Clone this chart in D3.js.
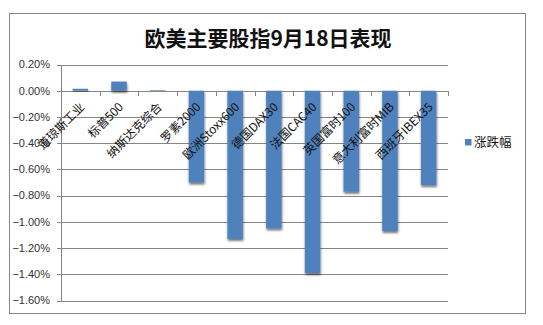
<!DOCTYPE html>
<html>
<head>
<meta charset="utf-8">
<script src="https://cdn.jsdelivr.net/npm/d3@7"></script>
<style>
  body { margin: 0; background: #fff; }
  text { font-family: "Noto Sans CJK SC", "Liberation Sans", sans-serif; }
</style>
</head>
<body>
<div id="chart"></div>
<script>
// Data
const categories = ["道琼斯工业", "标普500", "纳斯达克综合", "罗素2000", "欧洲Stoxx600",
    "德国DAX30", "法国CAC40", "英国富时100", "意大利富时MIB", "西班牙IBEX35"];
const values = [0.015, 0.07, 0.005, -0.70, -1.13, -1.05, -1.39, -0.77, -1.07, -0.72];
const yTicks = [0.2, 0, -0.2, -0.4, -0.6, -0.8, -1.0, -1.2, -1.4, -1.6];
const title = "欧美主要股指9月18日表现";
const seriesName = "涨跌幅";

function drawChart() {
    const width = 543;
    const height = 325;
    const plot = { left: 61, right: 448, top: 64.5, bottom: 300.5 };

    const svg = d3.select("#chart")
        .append("svg")
        .attr("width", width)
        .attr("height", height)
        .style("display", "block");

    // Excel-like bar shadow
    const defs = svg.append("defs");
    defs.append("filter")
        .attr("id", "shadow")
        .attr("x", "-30%").attr("y", "-30%")
        .attr("width", "160%").attr("height", "160%")
        .append("feDropShadow")
        .attr("dx", 0.5)
        .attr("dy", 2)
        .attr("stdDeviation", 1)
        .attr("flood-color", "#000")
        .attr("flood-opacity", 0.55);

    // Outer chart border
    svg.append("rect")
        .attr("x", 9.5).attr("y", 13.5)
        .attr("width", 516).attr("height", 300)
        .attr("fill", "#fff")
        .attr("stroke", "#868686")
        .attr("stroke-width", 1);

    // Title
    svg.append("text")
        .attr("x", 268)
        .attr("y", 46)
        .attr("text-anchor", "middle")
        .style("font-size", "21px")
        .style("font-weight", "bold")
        .style("fill", "#111")
        .text(title);

    const x = d3.scaleBand()
        .domain(categories)
        .range([plot.left, plot.right])
        .paddingInner(0.6)
        .paddingOuter(0.3);

    const y = d3.scaleLinear()
        .domain([-1.6, 0.2])
        .range([plot.bottom, plot.top]);

    // Gridlines
    svg.append("g")
        .selectAll("line")
        .data(yTicks)
        .join("line")
        .attr("x1", plot.left - 4)
        .attr("x2", plot.right)
        .attr("y1", d => Math.round(y(d)) + 0.5)
        .attr("y2", d => Math.round(y(d)) + 0.5)
        .attr("stroke", "#868686")
        .attr("stroke-width", 1);

    // Y axis line
    svg.append("line")
        .attr("x1", plot.left + 0.5).attr("x2", plot.left + 0.5)
        .attr("y1", Math.round(plot.top)).attr("y2", Math.round(plot.bottom) + 1)
        .attr("stroke", "#868686");

    // Y tick labels
    svg.append("g")
        .selectAll("text")
        .data(yTicks)
        .join("text")
        .attr("x", 50)
        .attr("y", d => y(d))
        .attr("dy", "0.35em")
        .attr("text-anchor", "end")
        .style("font-family", "'Liberation Sans', sans-serif")
        .style("font-size", "11px")
        .style("fill", "#333")
        .text(d => d3.format(".2f")(d) + "%");

    // Bars
    svg.append("g")
        .selectAll("rect")
        .data(values)
        .join("rect")
        .attr("x", (d, i) => x(categories[i]))
        .attr("width", x.bandwidth())
        .attr("y", d => y(Math.max(0, d)))
        .attr("height", d => Math.abs(y(d) - y(0)))
        .attr("fill", "#4F81BD")
        .attr("filter", "url(#shadow)");

    // X axis ticks on zero line
    const step = x.step();
    const boundaries = d3.range(categories.length + 1).map(i => plot.left + i * (plot.right - plot.left) / categories.length);
    svg.append("g")
        .selectAll("line")
        .data(boundaries)
        .join("line")
        .attr("x1", d => Math.round(d) + 0.5)
        .attr("x2", d => Math.round(d) + 0.5)
        .attr("y1", Math.round(y(0)))
        .attr("y2", Math.round(y(0)) + 5)
        .attr("stroke", "#868686");

    // Category labels, rotated
    svg.append("g")
        .selectAll("text")
        .data(categories)
        .join("text")
        .attr("transform", d => `translate(${x(d) + x.bandwidth() / 2 + 5},${y(0) + 17}) rotate(-45)`)
        .attr("text-anchor", "end")
        .style("font-size", "12px")
        .style("fill", "#111")
        .text(d => d);

    // Legend
    const legend = svg.append("g")
        .attr("transform", "translate(465,139)");
    legend.append("rect")
        .attr("width", 6.5)
        .attr("height", 6.5)
        .attr("fill", "#4F81BD");
    legend.append("text")
        .attr("x", 9)
        .attr("y", 3.5)
        .attr("dy", "0.35em")
        .style("font-size", "12.5px")
        .style("fill", "#111")
        .text(seriesName);
}

drawChart();
</script>
</body>
</html>
